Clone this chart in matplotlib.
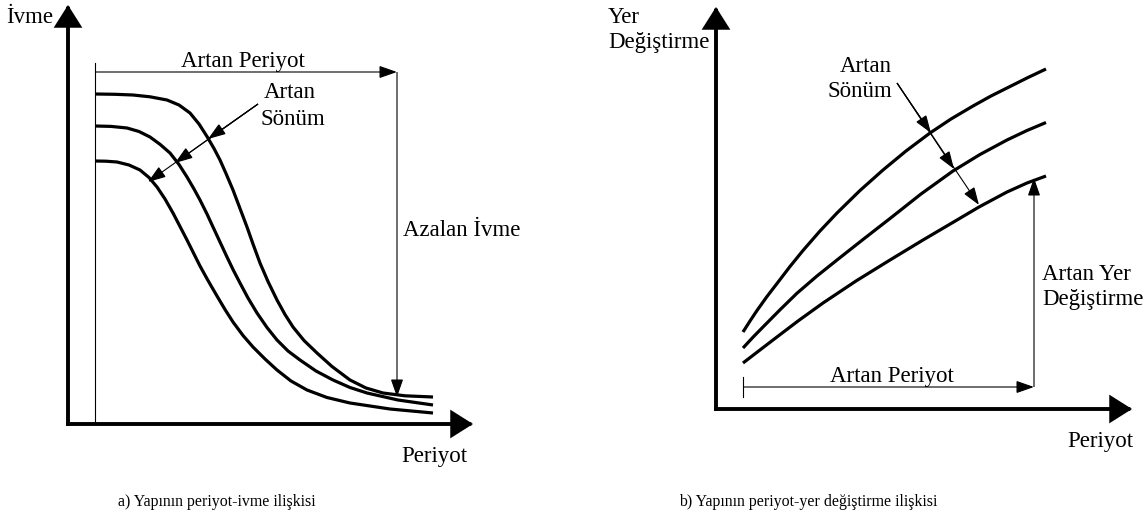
import matplotlib
matplotlib.use("Agg")
import matplotlib.pyplot as plt

# ---- data (figure pixel coordinates) ----
# Panel a: period-acceleration curves (three damping levels)
acc_x1 = [95, 115, 133, 150, 167, 179, 190, 199, 207, 214, 220, 226, 233, 240, 247, 253, 260, 268, 277, 285, 293, 304, 317, 332, 350, 366, 383, 405, 433]
acc_y1 = [94, 94.3, 95, 96.8, 100, 105, 113, 124, 136.5, 148.5, 160, 173.5, 190, 208.5, 227, 244, 263, 281.5, 300, 314.5, 327, 340.5, 353, 366.5, 380, 388, 393, 395.8, 397]
acc_x2 = [95, 111, 127, 139, 150, 160, 170, 179, 187, 194, 200, 207, 213, 220, 227, 233, 240, 248, 257, 267, 277, 288, 300, 316, 333, 350, 367, 398, 433]
acc_y2 = [126, 126.4, 128, 131.5, 137, 144.3, 153, 164.5, 177, 189, 200, 214, 227, 242, 257, 269.5, 283, 298, 313, 327.5, 340, 351, 360, 371, 380, 387.5, 393, 400, 405]
acc_x3 = [95, 106, 117, 129, 140, 149, 157, 165, 173, 180, 187, 194, 200, 208, 217, 225, 233, 243, 253, 265, 277, 291, 307, 327, 350, 390, 433]
acc_y3 = [161, 161.2, 162, 165, 170, 177.5, 187, 199, 213, 226.5, 240, 254, 266, 280.5, 296, 309.5, 322, 335.5, 347, 359, 370, 381, 390, 397.5, 403, 409, 413]

# Panel b: period-displacement curves (three damping levels)
dis_x1 = [743, 750, 757, 767, 777, 790, 803, 820, 837, 860, 883, 906, 930, 951, 973, 991, 1010, 1028, 1046]
dis_y1 = [332, 321, 310.5, 296.5, 283.5, 266.5, 250.5, 231, 213, 190.5, 170, 151, 133, 119, 106, 96, 86.5, 77.5, 69]
dis_x2 = [743, 753, 763, 780, 797, 817, 837, 863, 890, 921, 953, 980, 1007, 1027, 1046]
dis_y2 = [348, 337.2, 327, 309.8, 293.2, 276, 260, 239.5, 218.5, 194, 171, 154.5, 140, 130.5, 122.5]
dis_x3 = [743, 758, 773, 798, 823, 856, 890, 923, 957, 979, 1007, 1027, 1046]
dis_y3 = [363, 351.5, 340, 321, 303, 281, 260, 240, 220, 207, 192, 183, 176]

# damping arrows: start point and heads where they cross the curves
damp_a_start = (258, 104)
damp_a_heads = [(208, 139), (175, 163), (148, 182)]
damp_b_start = (897, 83)
damp_b_heads = [(931, 133), (954, 169), (979, 205)]

FONT = "Liberation Serif"
W, H = 1147, 523

fig = plt.figure(figsize=(W / 100, H / 100), dpi=100)
ax = fig.add_axes([0, 0, 1, 1])
ax.set_xlim(0, W)
ax.set_ylim(H, 0)
ax.axis("off")


def arrow(p0, p1, lw, hl, hw, ms, cap="butt"):
    ax.annotate("", xy=p1, xytext=p0,
                arrowprops=dict(arrowstyle=f"-|>,head_length={hl},head_width={hw}",
                                lw=lw, color="black", shrinkA=0, shrinkB=0,
                                mutation_scale=ms, joinstyle="miter", capstyle=cap))


def text(x, y, s, size=16.5, ha="left"):
    ax.text(x, y, s, fontsize=size, family=FONT, ha=ha, va="baseline", color="black")


# ---------- panel a ----------
arrow((68, 424), (68, 5), 2.8, 0.95, 0.6, 13, "projecting")
arrow((68, 424), (473, 424), 2.8, 0.95, 0.6, 13, "projecting")
ax.plot([95, 95], [63, 424], color="black", lw=0.8)
arrow((95, 72), (397, 72), 0.8, 1.0, 0.35, 11)
arrow((397, 72), (397, 397), 0.8, 1.0, 0.35, 11)
for xs, ys in [(acc_x1, acc_y1), (acc_x2, acc_y2), (acc_x3, acc_y3)]:
    ax.plot(xs, ys, color="black", lw=2.3, solid_capstyle="butt", solid_joinstyle="round")
for h in damp_a_heads:
    arrow(damp_a_start, h, 0.8, 1.0, 0.35, 11)

text(6, 23, "İvme")
text(243, 67, "Artan Periyot", ha="center")
text(264, 98, "Artan")
text(261, 125, "Sönüm")
text(403, 236, "Azalan İvme")
text(434, 462, "Periyot", ha="center")
text(118, 506, "a) Yapının periyot-ivme ilişkisi", size=11.4)

# ---------- panel b ----------
arrow((716, 409), (716, 7), 2.8, 0.95, 0.6, 13, "projecting")
arrow((716, 409), (1132, 409), 2.8, 0.95, 0.6, 13, "projecting")
ax.plot([743, 743], [377, 397], color="black", lw=0.8)
arrow((743, 387), (1034, 387), 0.8, 1.0, 0.35, 11)
arrow((1034, 387), (1034, 178), 0.8, 1.0, 0.35, 11)
for xs, ys in [(dis_x1, dis_y1), (dis_x2, dis_y2), (dis_x3, dis_y3)]:
    ax.plot(xs, ys, color="black", lw=2.3, solid_capstyle="butt", solid_joinstyle="round")
for h in damp_b_heads:
    arrow(damp_b_start, h, 0.8, 1.0, 0.35, 11)

text(608, 23, "Yer")
text(608, 48, "Değiştirme")
text(892, 72, "Artan", ha="right")
text(892, 97, "Sönüm", ha="right")
text(892, 382, "Artan Periyot", ha="center")
text(1042, 280, "Artan Yer")
text(1042, 305, "Değiştirme")
text(1133, 447, "Periyot", ha="right")
text(679, 506, "b) Yapının periyot-yer değiştirme ilişkisi", size=11.4)

fig.savefig("out.png", dpi=100, facecolor="white")
